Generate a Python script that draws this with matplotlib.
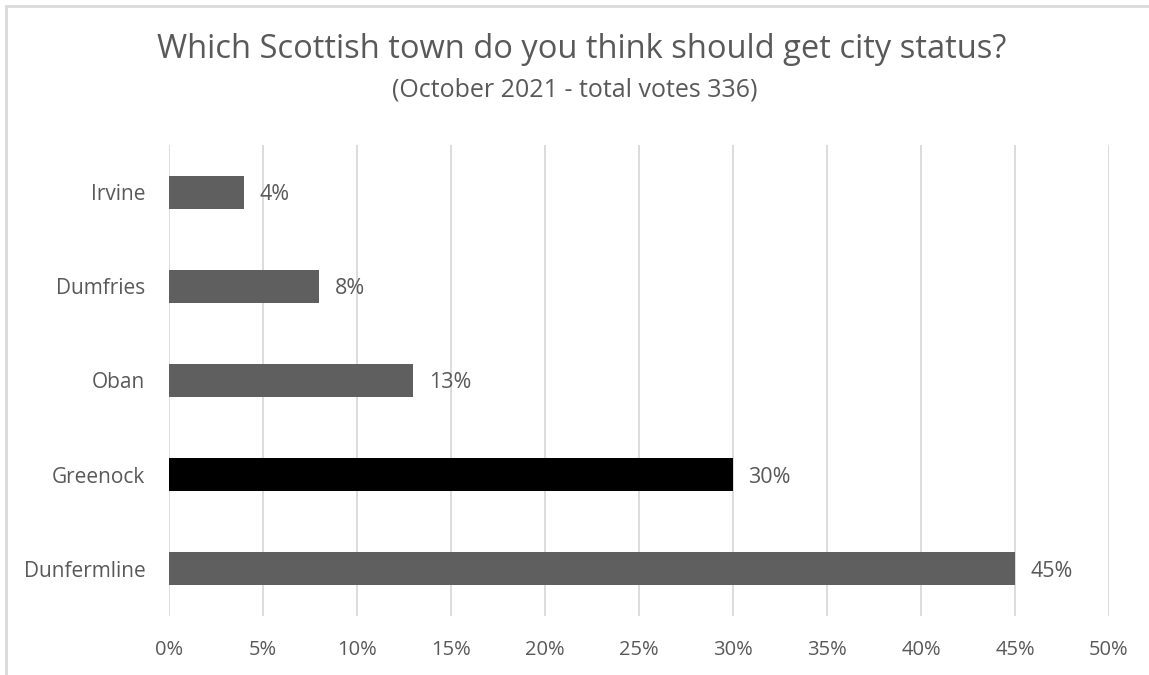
import matplotlib
matplotlib.use("Agg")
import matplotlib.pyplot as plt
from matplotlib.patches import Rectangle
from matplotlib.ticker import MultipleLocator, FuncFormatter

towns = ["Dunfermline", "Greenock", "Oban", "Dumfries", "Irvine"]
shares = [45, 30, 13, 8, 4]
bar_colors = ["#5f5f5f", "#000000", "#5f5f5f", "#5f5f5f", "#5f5f5f"]

title = "Which Scottish town do you think should get city status?"
subtitle = "(October 2021 - total votes 336)"

plt.rcParams["font.family"] = ["Open Sans", "DejaVu Sans"]
text_color = "#595959"
grid_color = "#d9d9d9"

fig = plt.figure(figsize=(11.49, 6.75), dpi=100)
fig.patch.set_facecolor("white")

# chart-area frame
fig.add_artist(Rectangle((6 / 1149, -0.02), 1.0, 1 - 6 / 675 + 0.02,
                         transform=fig.transFigure, fill=False,
                         edgecolor=grid_color, linewidth=2))

ax = fig.add_axes([169 / 1149, 1 - 616 / 675, 940 / 1149, 471 / 675])
ypos = list(range(len(towns)))
ax.barh(ypos, shares, height=0.35, color=bar_colors, zorder=3)

ax.set_xlim(0, 50)
ax.set_ylim(-0.5, len(towns) - 0.5)
ax.xaxis.set_major_locator(MultipleLocator(5))
ax.xaxis.set_major_formatter(FuncFormatter(lambda v, _: f"{v:.0f}%"))
ax.grid(axis="x", color=grid_color, linewidth=1.3, zorder=0)
ax.set_yticks(ypos)
ax.set_yticklabels(towns)
for s in ax.spines.values():
    s.set_visible(False)
ax.tick_params(axis="both", length=0, colors=text_color)
ax.tick_params(axis="x", pad=17, labelsize=14.5)
ax.tick_params(axis="y", pad=17, labelsize=15)

for y, v in zip(ypos, shares):
    ax.annotate(f"{v}%", (v, y), xytext=(11, 0), textcoords="offset points",
                va="center_baseline", ha="left", fontsize=15.5, color=text_color)

fig.text(582 / 1149, 1 - 50 / 675, title, ha="center", va="center",
         fontsize=23.5, color=text_color)
fig.text(0.5, 1 - 90 / 675, subtitle, ha="center", va="center",
         fontsize=18, color=text_color)

fig.savefig("out.png", dpi=100, facecolor="white")
